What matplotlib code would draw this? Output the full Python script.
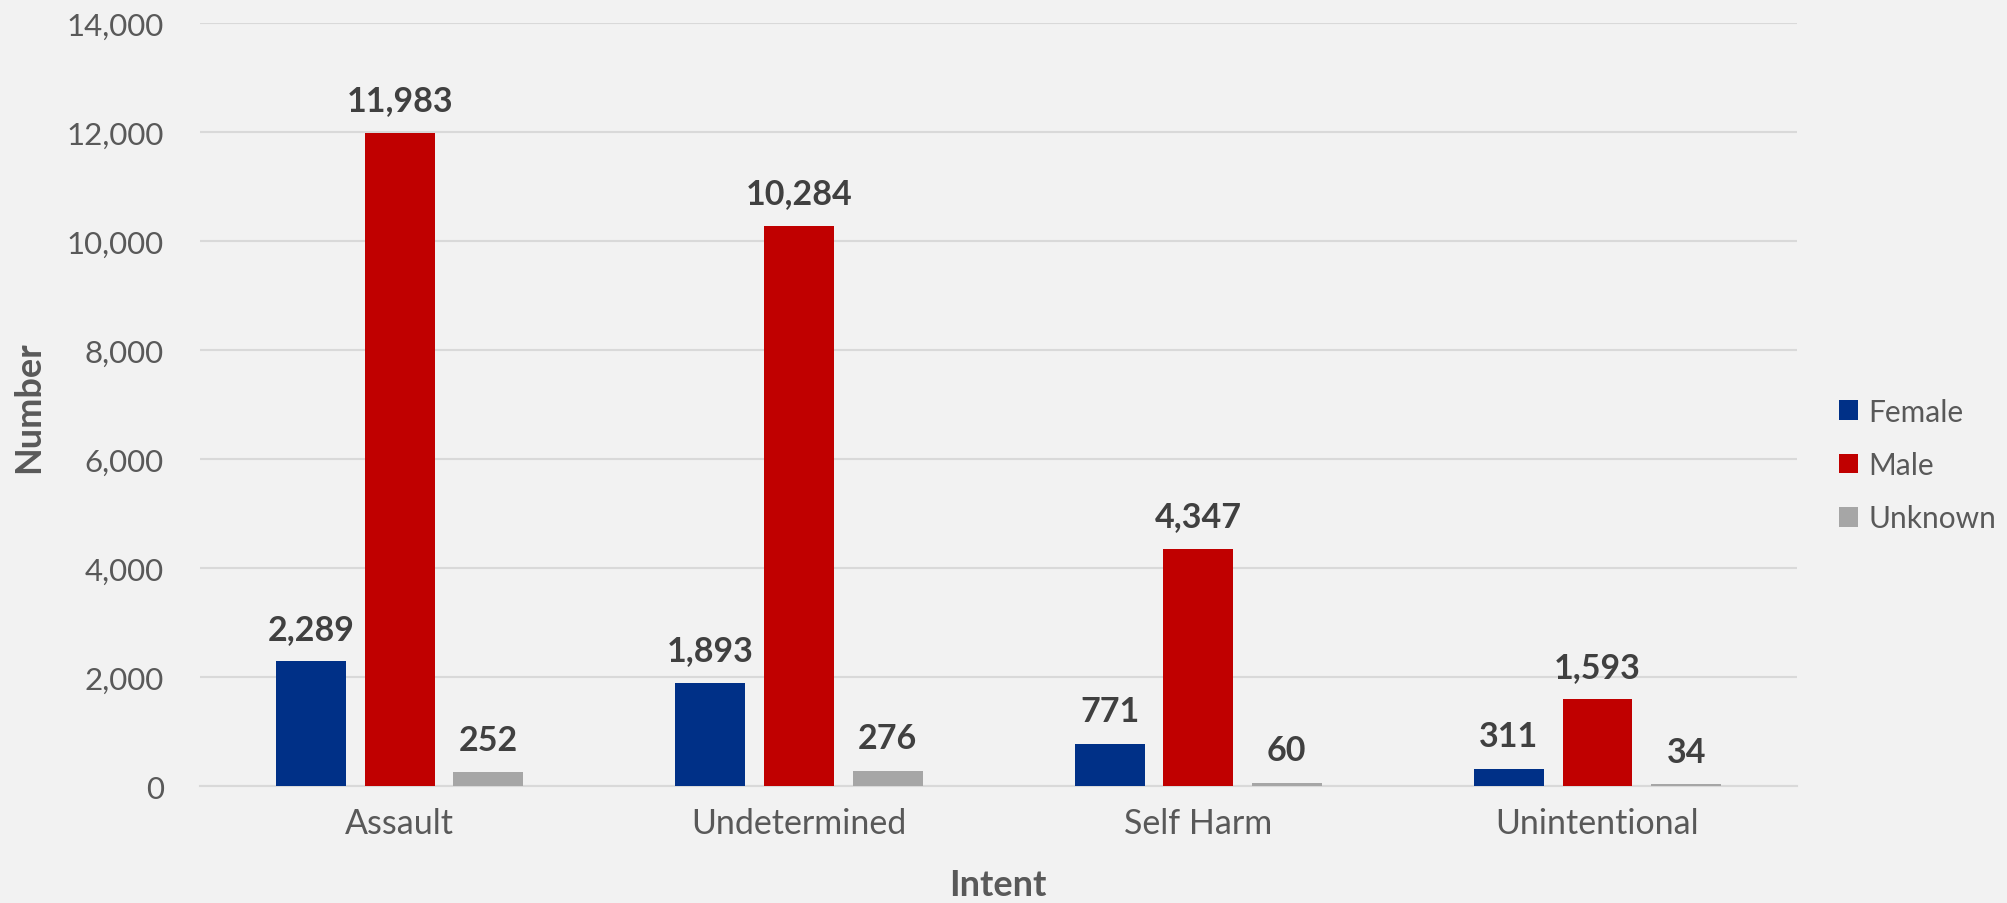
import numpy as np
import matplotlib.pyplot as plt
from matplotlib.patches import Patch
from matplotlib.ticker import FuncFormatter

# data
intents = ["Assault", "Undetermined", "Self Harm", "Unintentional"]
female = [2289, 1893, 771, 311]
male = [11983, 10284, 4347, 1593]
unknown = [252, 276, 60, 34]
series_names = ["Female", "Male", "Unknown"]
series_colors = ["#003087", "#C00000", "#A6A6A6"]

BG = "#F2F2F2"
GRID = "#D9D9D9"
TICK_COLOR = "#595959"
LABEL_COLOR = "#404040"

plt.rcParams["font.family"] = ["Lato", "DejaVu Sans"]

fig = plt.figure(figsize=(20.08, 9.04), dpi=100, facecolor=BG)
ax = fig.add_axes([0.0996, 0.1294, 0.7954, 0.8437])
ax.set_facecolor(BG)

x = np.arange(len(intents))
width = 0.175
step = 0.222

for i, (vals, name, col) in enumerate(zip([female, male, unknown], series_names, series_colors)):
    bars = ax.bar(x + (i - 1) * step, vals, width, color=col, label=name, zorder=3)
    for b, v in zip(bars, vals):
        ax.annotate(f"{v:,}", (b.get_x() + b.get_width() / 2, v),
                    xytext=(0, 12), textcoords="offset points",
                    ha="center", va="bottom", fontsize=24.5, fontweight="bold",
                    color=LABEL_COLOR)

ax.set_xlim(-0.5, len(intents) - 0.5)
ax.set_ylim(0, 14000)
ax.set_yticks(np.arange(0, 14001, 2000))
ax.yaxis.set_major_formatter(FuncFormatter(lambda v, p: f"{int(v):,}"))
ax.set_xticks(x)
ax.set_xticklabels(intents, fontsize=24.5)

ax.grid(axis="y", color=GRID, linewidth=1.5, zorder=0)
for s in ["top", "right", "left"]:
    ax.spines[s].set_visible(False)
ax.spines["bottom"].set_color(GRID)
ax.spines["bottom"].set_linewidth(1.5)
ax.tick_params(axis="both", length=0, colors=TICK_COLOR)
ax.tick_params(axis="y", pad=26, labelsize=22.5)
ax.tick_params(axis="x", pad=15)

fig.text(0.0145, 0.55, "Number", rotation=90, ha="center", va="center",
         fontsize=26, fontweight="bold", color=TICK_COLOR)
fig.text(0.497, 0.02, "Intent", ha="center", va="center",
         fontsize=26, fontweight="bold", color=TICK_COLOR)

handles = [Patch(facecolor=c, label=n) for n, c in zip(series_names, series_colors)]
fig.legend(handles=handles, loc="center left", bbox_to_anchor=(0.916, 0.4845),
           frameon=False, fontsize=21.5, handlelength=0.62, handleheight=0.62,
           handletextpad=0.35, labelspacing=0.85, labelcolor=TICK_COLOR,
           borderaxespad=0, borderpad=0)

fig.savefig("out.png", dpi=100, facecolor=BG)
